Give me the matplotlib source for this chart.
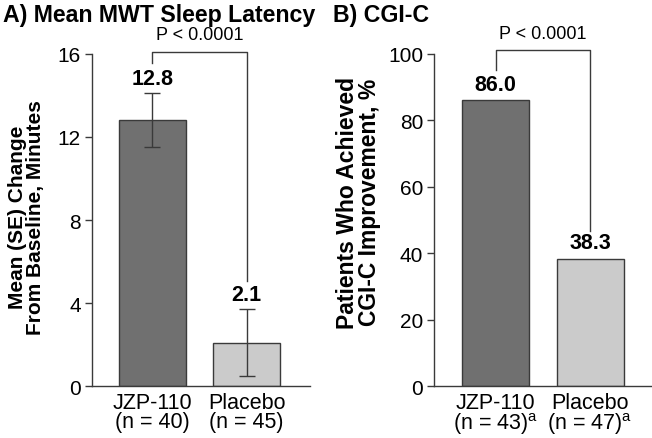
import matplotlib
matplotlib.use("Agg")
import matplotlib.pyplot as plt

plt.rcParams['font.family'] = ['Liberation Sans', 'DejaVu Sans']

# Data
groups = ["JZP-110", "Placebo"]
mwt_n = ["(n = 40)", "(n = 45)"]
mwt_mean = [12.8, 2.1]
mwt_se = [1.3, 1.6]
cgi_n = ["(n = 43)$^\\mathregular{a}$", "(n = 47)$^\\mathregular{a}$"]
cgi_pct = [86.0, 38.3]
p_text = "P < 0.0001"

bar_colors = ["#707070", "#cbcbcb"]
edge = "#3a3a3a"
line_c = "#3a3a3a"

fig = plt.figure(figsize=(6.52, 4.39), dpi=100)
axA = fig.add_axes([0.141, 0.118, 0.334, 0.757])
axB = fig.add_axes([0.666, 0.118, 0.334, 0.757])

x = [0, 1]
W = 0.71

def style(ax, xlim, ylim, yticks, labels):
    ax.set_xlim(*xlim)
    ax.set_ylim(*ylim)
    ax.set_yticks(yticks)
    ax.set_xticks(x)
    ax.set_xticklabels(labels, fontsize=15.5, linespacing=0.88)
    ax.tick_params(axis='x', length=0, pad=4)
    ax.tick_params(axis='y', length=5, width=1, labelsize=15, pad=3, color=line_c)
    for s in ['top', 'right']:
        ax.spines[s].set_visible(False)
    for s in ['left', 'bottom']:
        ax.spines[s].set_color(line_c)
        ax.spines[s].set_linewidth(1)

# Panel A
axA.bar(x, mwt_mean, width=W, color=bar_colors, edgecolor=edge, linewidth=1, zorder=2)
axA.errorbar(x, mwt_mean, yerr=mwt_se, fmt='none', ecolor=line_c, elinewidth=1,
             capsize=6, capthick=1, zorder=3)
style(axA, (-0.64, 1.667), (0, 16), [0, 4, 8, 12, 16],
      [f"{g}\n{n}" for g, n in zip(groups, mwt_n)])
for xi, m, s in zip(x, mwt_mean, mwt_se):
    axA.annotate(f"{m:.1f}", (xi, m + s), xytext=(0, 3), textcoords='offset points',
                 ha='center', va='bottom', fontsize=15.5, fontweight='bold')
# bracket A
axA.plot([0, 0, 1, 1], [15.55, 16.1, 16.1, 5.05], color=line_c, lw=1, clip_on=False)
axA.text(0.5, 16.5, p_text, ha='center', va='bottom', fontsize=13)
axA.text(-0.30, 0.51, "Mean (SE) Change\nFrom Baseline, Minutes", transform=axA.transAxes,
         rotation=90, ha='center', va='center', fontsize=15, fontweight='bold',
         linespacing=0.95)

# Panel B
axB.bar(x, cgi_pct, width=W, color=bar_colors, edgecolor=edge, linewidth=1, zorder=2)
style(axB, (-0.651, 1.656), (0, 100), [0, 20, 40, 60, 80, 100],
      [f"{g}\n{n}" for g, n in zip(groups, cgi_n)])
for xi, v in zip(x, cgi_pct):
    axB.annotate(f"{v:.1f}", (xi, v), xytext=(0, 4), textcoords='offset points',
                 ha='center', va='bottom', fontsize=15.5, fontweight='bold')
axB.plot([0, 0, 1, 1], [95.0, 101.2, 101.2, 46.7], color=line_c, lw=1, clip_on=False)
axB.text(0.5, 103.6, p_text, ha='center', va='bottom', fontsize=13)
axB.text(-0.348, 0.555, "Patients Who Achieved\nCGI-C Improvement, %", transform=axB.transAxes,
         rotation=90, ha='center', va='center', fontsize=16.5, fontweight='bold',
         linespacing=0.9)

fig.text(0.004, 0.992, "A) Mean MWT Sleep Latency", ha='left', va='top',
         fontsize=16.7, fontweight='bold')
fig.text(0.511, 0.992, "B) CGI-C", ha='left', va='top',
         fontsize=16.7, fontweight='bold')

fig.savefig("out.png", dpi=100)
